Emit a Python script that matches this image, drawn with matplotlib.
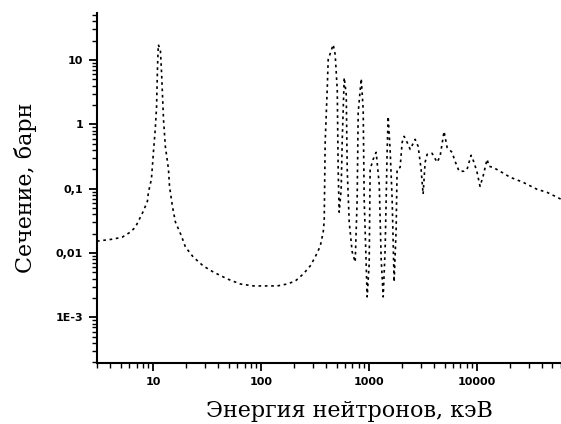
import matplotlib
matplotlib.use("Agg")
import matplotlib.pyplot as plt
import matplotlib.ticker as mticker

# energy, keV
energy = [3.0, 4.27, 5.16, 6.12, 6.81, 7.26, 8.07, 8.80, 8.99, 9.58, 9.79, 10.0,
          10.4, 10.7, 10.9, 11.1, 11.6, 11.9, 12.4, 12.9, 13.8, 14.1, 15.0, 16.0,
          18.2, 19.8, 23.4, 29.0, 35.9, 48.5, 64.0, 84.4, 114, 141, 174, 207,
          245, 284, 316, 352, 375, 383, 391, 409, 417, 464, 484, 506, 516, 527,
          550, 563, 587, 613, 626, 653, 696, 742, 774, 791, 844, 880, 899, 938,
          958, 1000, 1021, 1089, 1161, 1240, 1292, 1349, 1406, 1469, 1500, 1563,
          1633, 1703, 1778, 1815, 1936, 2022, 2110, 2249, 2399, 2669, 2844, 3029,
          3162, 3302, 3447, 3831, 4263, 4543, 4945, 5272, 5869, 6254, 6813, 7580,
          8080, 8800, 9370, 10000, 10660, 11370, 12390, 12920, 14060, 16330,
          20230, 26680, 35950, 44460, 55080, 60000]

# cross section, barn
sigma = [0.0153, 0.0165, 0.0177, 0.0212, 0.0253, 0.0313, 0.0448, 0.064, 0.088,
         0.140, 0.223, 0.368, 0.836, 1.90, 7.13, 17.4, 14.5, 6.40, 1.20, 0.456,
         0.200, 0.109, 0.0535, 0.0303, 0.0184, 0.0124, 0.00867, 0.00629, 0.00507,
         0.00395, 0.00330, 0.00308, 0.00308, 0.00308, 0.00330, 0.00368, 0.00472,
         0.00629, 0.00867, 0.0128, 0.0212, 0.0313, 0.526, 3.75, 10.2, 17.4, 12.2,
         3.49, 0.200, 0.0432, 0.098, 0.585, 5.35, 2.92, 0.200, 0.0303, 0.0104,
         0.00725, 0.0687, 1.53, 5.17, 1.71, 0.0687, 0.00675, 0.00208, 0.00675,
         0.200, 0.287, 0.368, 0.117, 0.00807, 0.00208, 0.0115, 0.409, 1.33, 0.409,
         0.0687, 0.00355, 0.0235, 0.200, 0.215, 0.526, 0.652, 0.526, 0.409, 0.585,
         0.456, 0.200, 0.0822, 0.258, 0.343, 0.355, 0.258, 0.319, 0.778, 0.440,
         0.368, 0.267, 0.187, 0.187, 0.200, 0.331, 0.258, 0.180, 0.109, 0.156,
         0.287, 0.223, 0.215, 0.187, 0.151, 0.126, 0.098, 0.088, 0.0738, 0.0687]

y_ticks = [1e-3, 1e-2, 1e-1, 1, 10]
y_tick_labels = ["1E-3", "0,01", "0,1", "1", "10"]
x_ticks = [10, 100, 1000, 10000]
x_tick_labels = ["10", "100", "1000", "10000"]

fig = plt.figure(figsize=(5.61, 4.24), dpi=100)
ax = fig.add_axes([97 / 561, 1 - 363 / 424, 1 - 97 / 561, (363 - 13) / 424])

# short dashes, like the scanned plot
ax.plot(energy, sigma, color="black", lw=1.2, linestyle=(0, (1.6, 2.2)))

ax.set_xscale("log")
ax.set_yscale("log")
ax.set_xlim(3.0, 60000)
ax.set_ylim(1.95e-4, 54)

ax.set_xticks(x_ticks)
ax.set_xticklabels(x_tick_labels)
ax.set_yticks(y_ticks)
ax.set_yticklabels(y_tick_labels)
ax.xaxis.set_minor_locator(mticker.LogLocator(base=10, subs=range(2, 10), numticks=20))
ax.yaxis.set_minor_locator(mticker.LogLocator(base=10, subs=range(2, 10), numticks=20))
ax.xaxis.set_minor_formatter(mticker.NullFormatter())
ax.yaxis.set_minor_formatter(mticker.NullFormatter())

for lab in ax.get_xticklabels() + ax.get_yticklabels():
    lab.set_fontweight("bold")
    lab.set_fontsize(8)

ax.tick_params(which="major", direction="out", length=6, width=1.3, pad=4)
ax.tick_params(which="minor", direction="out", length=3.5, width=1.0)

for side in ["top", "right"]:
    ax.spines[side].set_visible(False)
ax.spines["left"].set_linewidth(1.5)
ax.spines["bottom"].set_linewidth(1.5)

ax.set_xlabel("Энергия нейтронов, кэВ", family="DejaVu Serif", fontsize=16)
ax.xaxis.set_label_coords((349 - 97) / 464, -0.105)
ax.set_ylabel("Сечение, барн", family="DejaVu Serif", fontsize=16, labelpad=13)

fig.savefig("out.png", dpi=100)
